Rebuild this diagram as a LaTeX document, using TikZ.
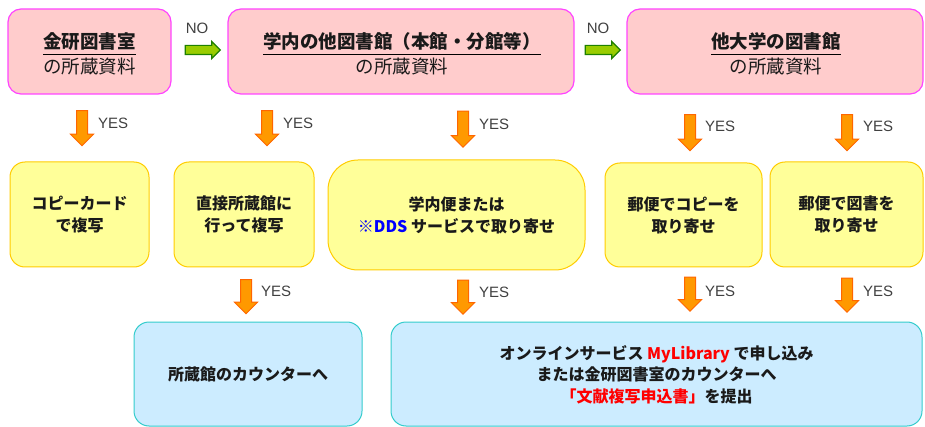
\documentclass[tikz,border=0pt]{standalone}
\usepackage{fontspec}
\setmainfont{Noto Sans CJK JP}
\newfontfamily\latinlbl{Liberation Sans}
\usetikzlibrary{shapes.arrows}
\definecolor{pinkfill}{HTML}{FFCCCC}
\definecolor{pinkline}{HTML}{FF44FF}
\definecolor{yelfill}{HTML}{FFFF99}
\definecolor{yelline}{HTML}{FFCC00}
\definecolor{bluefill}{HTML}{CCECFF}
\definecolor{blueline}{HTML}{33CCCC}
\definecolor{orfill}{HTML}{FF9900}
\definecolor{orline}{HTML}{FF6600}
\definecolor{grfill}{HTML}{99CC00}
\definecolor{grline}{HTML}{1E8000}
\definecolor{lbl}{HTML}{404040}
\definecolor{ddsblue}{HTML}{0000FF}
\definecolor{txtred}{HTML}{FF0000}
\definecolor{txtdark}{HTML}{1A1A1A}
\tikzset{
  srcbox/.style={draw=pinkline, fill=pinkfill, line width=1.2pt, rounded corners=13pt,
    inner sep=0pt, minimum height=85pt},
  srctitle/.style={font=\fontsize{18.5}{25}\selectfont\bfseries, text=txtdark, inner sep=0pt,
    text depth=5pt, anchor=base},
  srcsub/.style={font=\fontsize{18.5}{25}\selectfont, text=txtdark, inner sep=0pt, anchor=base},
  underl/.style={draw=black, line width=1pt},
  yelbox/.style={draw=yelline, fill=yelfill, line width=1pt, rounded corners=15pt,
    font=\fontsize{16}{22}\selectfont\bfseries, text=txtdark, align=center, inner sep=0pt},
  bluebox/.style={draw=blueline, fill=bluefill, line width=1pt, rounded corners=15pt,
    font=\fontsize{16}{21.5}\selectfont\bfseries, text=txtdark, align=center, inner sep=0pt, minimum height=104pt},
  downarr/.style={single arrow, draw=orline, fill=orfill, line width=1pt, rotate=-90,
    minimum height=#1, inner xsep=0pt, inner ysep=5pt,
    single arrow head extend=6pt, single arrow head indent=0pt},
  rightarr/.style={single arrow, draw=grline, fill=grfill, line width=1.2pt,
    minimum height=35pt, inner xsep=0pt, inner ysep=4pt,
    single arrow head extend=4pt, single arrow head indent=0pt},
  yeslbl/.style={font=\latinlbl\fontsize{15}{15}\selectfont, text=lbl, anchor=west, inner sep=0pt},
  nolbl/.style={font=\latinlbl\fontsize{15}{15}\selectfont, text=lbl, inner sep=0pt}
}
\begin{document}
\begin{tikzpicture}[x=1pt,y=1pt]
\useasboundingbox (0,0) rectangle (925,-427);
% top row
\node[srcbox, minimum width=163pt] (s1) at (89.5,-51.5) {};
\node[srctitle] (s1t) at (89.5,-49) {金研図書室};
\node[srcsub] (s1s) at (89.5,-74) {の所蔵資料};
\draw[underl] (s1t.south west) -- (s1t.south east);
\node[srcbox, minimum width=346pt] (s2) at (401,-51.5) {};
\node[srctitle] (s2t) at (402,-49) {学内の他図書館（本館・分館等）};
\node[srcsub] (s2s) at (402,-74) {の所蔵資料};
\draw[underl] (s2t.south west) -- (s2t.south east);
\node[srcbox, minimum width=296pt] (s3) at (775,-51.5) {};
\node[srctitle] (s3t) at (776,-49) {他大学の図書館};
\node[srcsub] (s3s) at (776,-74) {の所蔵資料};
\draw[underl] (s3t.south west) -- (s3t.south east);
% NO arrows
\node[rightarr] (n1) at (200.5,-50) {};
\node[nolbl] (n1l) at (197,-28) {NO};
\node[rightarr] (n2) at (600.5,-50) {};
\node[nolbl] (n2l) at (598,-28) {NO};
% YES arrows row 1
\node[downarr=35pt] (a1) at (82,-125.5) {};
\node[yeslbl] (a1l) at (98,-123) {YES};
\node[downarr=35pt] (a2) at (267,-125.5) {};
\node[yeslbl] (a2l) at (283,-123) {YES};
\node[downarr=36pt] (a3) at (463,-126.5) {};
\node[yeslbl] (a3l) at (479,-124) {YES};
\node[downarr=36pt] (a4) at (690,-130) {};
\node[yeslbl] (a4l) at (705,-126) {YES};
\node[downarr=36pt] (a5) at (847,-130) {};
\node[yeslbl] (a5l) at (863,-126) {YES};
% yellow row
\node[yelbox, minimum width=139pt, minimum height=105pt] (y1) at (79.5,-214.5) {コピーカード\\で複写};
\node[yelbox, minimum width=140pt, minimum height=105pt] (y2) at (244,-214.5) {直接所蔵館に\\行って複写};
\node[yelbox, minimum width=257pt, minimum height=110pt, rounded corners=30pt] (y3) at (456.5,-215)
  {学内便または\\\textcolor{ddsblue}{※DDS} サービスで取り寄せ};
\node[yelbox, minimum width=157pt, minimum height=104pt] (y4) at (683.5,-215) {郵便でコピーを\\取り寄せ};
\node[yelbox, minimum width=153pt, minimum height=105pt] (y5) at (846.5,-214.5) {郵便で図書を\\取り寄せ};
% YES arrows row 2
\node[downarr=34pt] (b1) at (246,-294) {};
\node[yeslbl] (b1l) at (261,-291) {YES};
\node[downarr=34pt] (b2) at (463,-294.5) {};
\node[yeslbl] (b2l) at (479,-292) {YES};
\node[downarr=34pt] (b3) at (690,-291.5) {};
\node[yeslbl] (b3l) at (705,-291) {YES};
\node[downarr=34pt] (b4) at (847,-292.5) {};
\node[yeslbl] (b4l) at (863,-291) {YES};
% blue row
\node[bluebox, minimum width=228pt] (c1) at (248,-374) {所蔵館のカウンターへ};
\node[bluebox, minimum width=531pt] (c2) at (656.5,-374)
  {\raisebox{-2.5pt}[\height][\depth]{\begin{tabular}{@{}c@{}}オンラインサービス \textcolor{txtred}{MyLibrary} で申し込み\\または金研図書室のカウンターへ\\\textcolor{txtred}{「文献複写申込書」}を提出\end{tabular}}};
\end{tikzpicture}
\end{document}
